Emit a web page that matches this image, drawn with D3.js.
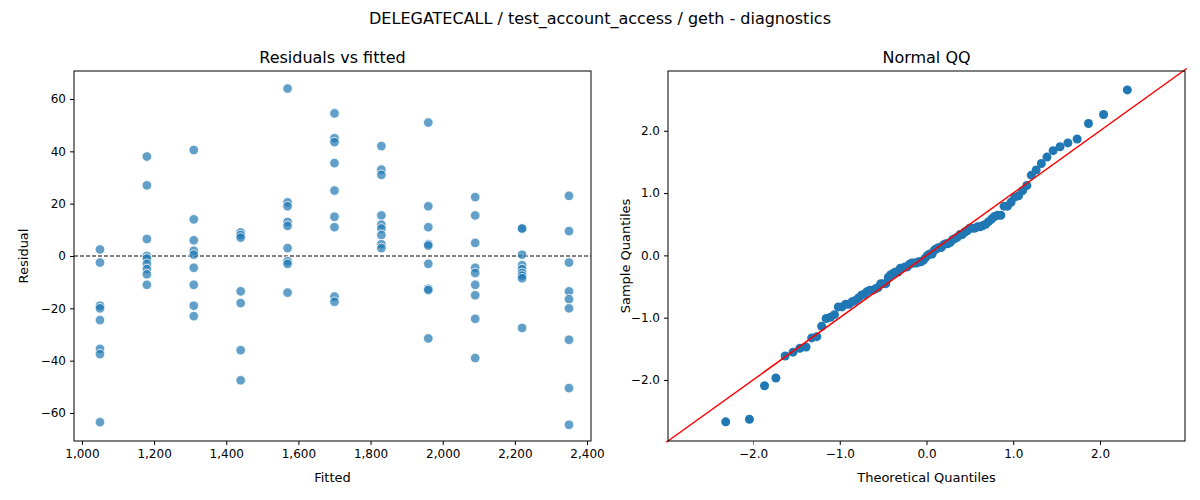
<!DOCTYPE html>
<html>
<head>
<meta charset="utf-8">
<script src="https://cdn.jsdelivr.net/npm/d3@7"></script>
<style>
  body { margin: 0; background: #fff; font-family: "DejaVu Sans", sans-serif; }
  .tick text { font-size: 12px; font-family: "DejaVu Sans", sans-serif; }
</style>
</head>
<body>
<svg id="chart" width="1200" height="500"></svg>
<script>
// fitted levels and the residuals read at each level
const fittedLevels = [1050, 1180, 1310, 1440, 1570, 1700, 1830, 1960, 2090, 2220, 2350];
const residualsByLevel = [
  [2.5, -2.5, -19, -20, -24.5, -35.5, -37.5, -63.5],
  [38, 27, 6.5, 0, -1, -3, -5, -7, -11],
  [40.5, 14, 6, 2, 0.5, -4.5, -11, -19, -23],
  [9, 8, 7, -13.5, -18, -36, -47.5],
  [64, 20.5, 19, 13, 11.5, 3, -2, -3, -14],
  [54.5, 45, 43.5, 35.5, 25, 15, 11, -15.5, -17.5],
  [42, 33, 31, 15.5, 12, 10.5, 8, 4.5, 3],
  [51, 19, 11, 4.5, 4, -3, -12.5, -13, -31.5],
  [22.5, 15.5, 5, -4.5, -6.5, -11, -15, -24, -39],
  [10.5, 10.5, 0.5, -3.5, -5, -6.5, -7.5, -8.5, -27.5],
  [23, 9.5, -2.5, -13.5, -16.5, -20, -32, -50.5, -64.5]
];
const residTicksX = [1000, 1200, 1400, 1600, 1800, 2000, 2200, 2400];
const residTicksY = [-60, -40, -20, 0, 20, 40, 60];
const qqTicks = [-2, -1, 0, 1, 2];

const points = [];
fittedLevels.forEach((f, i) => residualsByLevel[i].forEach(r => points.push({ fitted: f, resid: r })));

// inverse normal CDF (Acklam)
function qnorm(p) {
  const a = [-39.69683028665376, 220.9460984245205, -275.9285104469687, 138.3577518672690, -30.66479806614716, 2.506628277459239];
  const b = [-54.47609879822406, 161.5858368580409, -155.6989798598866, 66.80131188771972, -13.28068155288572];
  const c = [-0.007784894002430293, -0.3223964580411365, -2.400758277161838, -2.549732539343734, 4.374664141464968, 2.938163982698783];
  const d = [0.007784695709041462, 0.3224671290700398, 2.445134137142996, 3.754408661907416];
  const pl = 0.02425;
  let q, r;
  if (p < pl) {
    q = Math.sqrt(-2 * Math.log(p));
    return (((((c[0]*q+c[1])*q+c[2])*q+c[3])*q+c[4])*q+c[5]) / ((((d[0]*q+d[1])*q+d[2])*q+d[3])*q+1);
  } else if (p <= 1 - pl) {
    q = p - 0.5; r = q * q;
    return (((((a[0]*r+a[1])*r+a[2])*r+a[3])*r+a[4])*r+a[5])*q / (((((b[0]*r+b[1])*r+b[2])*r+b[3])*r+b[4])*r+1);
  }
  q = Math.sqrt(-2 * Math.log(1 - p));
  return -(((((c[0]*q+c[1])*q+c[2])*q+c[3])*q+c[4])*q+c[5]) / ((((d[0]*q+d[1])*q+d[2])*q+d[3])*q+1);
}

// QQ data: standardized residuals vs theoretical quantiles
const resids = points.map(d => d.resid);
const n = resids.length;
const mean = d3.mean(resids);
const sd = d3.deviation(resids);
const sample = resids.map(r => (r - mean) / sd).sort(d3.ascending);
const qq = sample.map((s, i) => ({ theo: qnorm((i + 1) / (n + 1)), samp: s }));

const svg = d3.select("#chart");

svg.append("text").attr("x", 600).attr("y", 24).attr("text-anchor", "middle")
  .style("font-size", "16px").text("DELEGATECALL / test_account_access / geth - diagnostics");

function frame(g, w, h) {
  g.append("rect").attr("width", w).attr("height", h).attr("fill", "none")
    .attr("stroke", "#000").attr("stroke-width", 1);
}

// ---- left: residuals vs fitted
const L = { x: 74, y: 71, w: 517, h: 370 };
const gl = svg.append("g").attr("transform", `translate(${L.x},${L.y})`);
const xL = d3.scaleLinear().domain([978, 2411]).range([0, L.w]);
const yL = d3.scaleLinear().domain([-70.7, 70.7]).range([L.h, 0]);

gl.append("g").attr("transform", `translate(0,${L.h})`)
  .call(d3.axisBottom(xL).tickValues(residTicksX).tickSize(4).tickPadding(4));
gl.append("g").call(d3.axisLeft(yL).tickValues(residTicksY).tickSize(4).tickPadding(4));
gl.selectAll(".domain").remove();

gl.append("line").attr("x1", 0).attr("x2", L.w).attr("y1", yL(0)).attr("y2", yL(0))
  .attr("stroke", "#000").attr("stroke-dasharray", "4,2").attr("stroke-width", 1.1);

gl.selectAll("circle").data(points).enter().append("circle")
  .attr("cx", d => xL(d.fitted)).attr("cy", d => yL(d.resid)).attr("r", 4.8)
  .attr("fill", "#1f77b4").attr("fill-opacity", 0.7)
  .attr("stroke", "#fff").attr("stroke-width", 0.8);
frame(gl, L.w, L.h);

gl.append("text").attr("x", L.w / 2).attr("y", -8).attr("text-anchor", "middle")
  .style("font-size", "16px").text("Residuals vs fitted");
gl.append("text").attr("x", L.w / 2).attr("y", L.h + 41).attr("text-anchor", "middle")
  .style("font-size", "13px").text("Fitted");
gl.append("text").attr("transform", `translate(-46,${L.h / 2}) rotate(-90)`).attr("text-anchor", "middle")
  .style("font-size", "13px").text("Residual");

// ---- right: normal QQ
const R = { x: 668, y: 71, w: 517, h: 370 };
const gr = svg.append("g").attr("transform", `translate(${R.x},${R.y})`);
const xR = d3.scaleLinear().domain([-2.98, 2.98]).range([0, R.w]);
const yR = d3.scaleLinear().domain([-2.98, 2.96]).range([R.h, 0]);

gr.append("g").attr("transform", `translate(0,${R.h})`)
  .call(d3.axisBottom(xR).tickValues(qqTicks).tickSize(4).tickPadding(4));
gr.append("g").call(d3.axisLeft(yR).tickValues(qqTicks).tickSize(4).tickPadding(4));
gr.selectAll(".domain").remove();

gr.selectAll("circle").data(qq).enter().append("circle")
  .attr("cx", d => xR(d.theo)).attr("cy", d => yR(d.samp)).attr("r", 4.5)
  .attr("fill", "#1f77b4");

gr.append("line").attr("x1", xR(-3)).attr("y1", yR(-3)).attr("x2", xR(3)).attr("y2", yR(3))
  .attr("stroke", "red").attr("stroke-width", 1.5);
gr.append("rect").attr("width", R.w).attr("height", R.h).attr("fill", "none");
frame(gr, R.w, R.h);
// clip the 45° line to the axes
gr.select("line").attr("clip-path", "url(#qqclip)");
svg.append("defs").append("clipPath").attr("id", "qqclip")
  .append("rect").attr("width", R.w).attr("height", R.h);

gr.append("text").attr("x", R.w / 2).attr("y", -8).attr("text-anchor", "middle")
  .style("font-size", "16px").text("Normal QQ");
gr.append("text").attr("x", R.w / 2).attr("y", R.h + 41).attr("text-anchor", "middle")
  .style("font-size", "13px").text("Theoretical Quantiles");
gr.append("text").attr("transform", `translate(-38,${R.h / 2}) rotate(-90)`).attr("text-anchor", "middle")
  .style("font-size", "13px").text("Sample Quantiles");
</script>
</body>
</html>
